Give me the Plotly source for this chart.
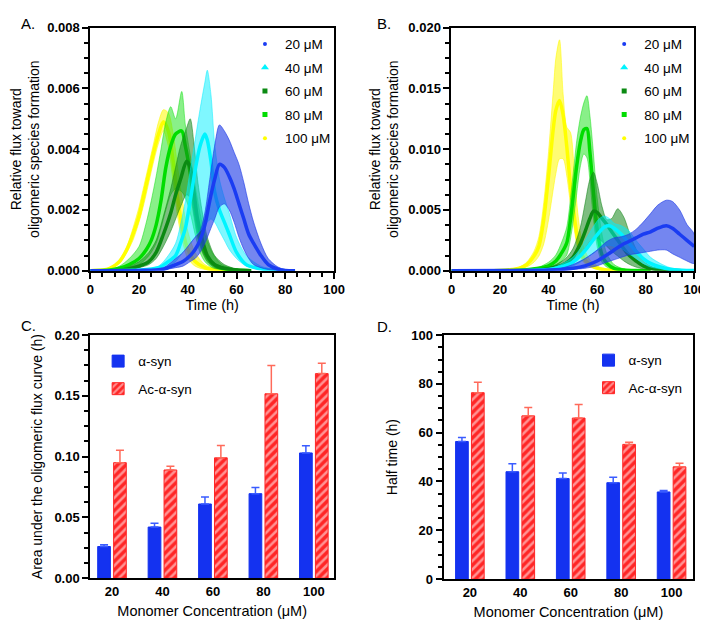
import plotly.graph_objects as go

# ---------------- Panel A (α-syn) : relative flux curves ----------------
A20_t = [0, 20, 30, 35, 38, 41, 43, 45, 47, 49, 51, 53, 55, 57, 59, 61, 63, 65, 67, 70, 73, 77, 80, 84]
A20_mean = [0, 0.00001, 0.00005, 0.0002, 0.0003, 0.0005, 0.0007, 0.001, 0.0015, 0.0023, 0.003, 0.0035, 0.0034, 0.0031, 0.0027, 0.0022, 0.0017, 0.0012, 0.0009, 0.0005, 0.0002, 0.00005, 0.00001, 0]
A20_upper = [0, 0.00002, 0.0001, 0.0004, 0.0006, 0.0009, 0.0011, 0.0013, 0.0019, 0.003, 0.0041, 0.0048, 0.0046, 0.0043, 0.0039, 0.0035, 0.0029, 0.0022, 0.0016, 0.0009, 0.0004, 0.00012, 0.00004, 0]
A20_lower = [0, 0.000005, 0.00003, 0.0001, 0.00015, 0.0003, 0.0004, 0.0006, 0.0009, 0.0013, 0.0017, 0.0021, 0.0022, 0.002, 0.0016, 0.0011, 0.0007, 0.0004, 0.0002, 0.0001, 0.00004, 0.00001, 0, 0]

A40_t = [0, 20, 28, 32, 35, 37, 39, 41, 43, 45, 47, 48, 49.5, 51, 53, 55, 57, 60, 64, 70, 77, 84]
A40_mean = [0, 0.00002, 0.0001, 0.0003, 0.0005, 0.0009, 0.0014, 0.0023, 0.0033, 0.0041, 0.0045, 0.0043, 0.0036, 0.0026, 0.002, 0.0016, 0.0012, 0.0006, 0.0002, 0.00006, 0.00001, 0]
A40_upper = [0, 0.00003, 0.00015, 0.0005, 0.0009, 0.0015, 0.0023, 0.0033, 0.0043, 0.0053, 0.0062, 0.0066, 0.0058, 0.0042, 0.003, 0.0024, 0.0019, 0.0011, 0.0005, 0.00015, 0.00003, 0]
A40_lower = [0, 0.00001, 0.00005, 0.00015, 0.0003, 0.0005, 0.0007, 0.0009, 0.0011, 0.0013, 0.0015, 0.0016, 0.0017, 0.0016, 0.0013, 0.001, 0.0007, 0.0004, 0.00015, 0.00004, 0.00001, 0]

A60_t = [0, 10, 15, 20, 24, 27, 30, 33, 35, 37, 39.5, 41, 42.5, 44, 46, 48, 51, 55, 60, 66]
A60_mean = [0, 0.00001, 0.00005, 0.00015, 0.0003, 0.0006, 0.0012, 0.0019, 0.0025, 0.003, 0.0036, 0.0034, 0.0026, 0.0017, 0.001, 0.0005, 0.0002, 0.00008, 0.00002, 0]
A60_upper = [0, 0.00002, 0.0001, 0.0003, 0.0006, 0.001, 0.0018, 0.0027, 0.0034, 0.0041, 0.0047, 0.005, 0.0042, 0.003, 0.0019, 0.0011, 0.0005, 0.0002, 0.00006, 0]
A60_lower = [0, 0.000005, 0.00003, 0.0001, 0.0002, 0.0004, 0.0008, 0.0013, 0.0017, 0.0021, 0.0025, 0.0024, 0.0018, 0.0011, 0.0006, 0.0003, 0.0001, 0.00004, 0.00001, 0]

A80_t = [0, 8, 12, 16, 20, 23, 25, 27, 29, 31, 33, 35, 37.5, 39, 41, 43, 45, 47, 50, 54, 60, 66]
A80_mean = [0, 0.00002, 0.00008, 0.0002, 0.0004, 0.0007, 0.001, 0.0015, 0.0023, 0.0034, 0.0041, 0.0045, 0.0046, 0.0041, 0.0032, 0.002, 0.0011, 0.0006, 0.00025, 0.00008, 0.00002, 0]
A80_upper = [0, 0.00004, 0.00015, 0.0004, 0.0008, 0.0016, 0.0023, 0.0031, 0.004, 0.0049, 0.0054, 0.005, 0.0059, 0.0048, 0.0038, 0.0028, 0.0019, 0.0012, 0.0006, 0.0002, 0.00005, 0]
A80_lower = [0, 0.00001, 0.00004, 0.0001, 0.0002, 0.0004, 0.0006, 0.0009, 0.0014, 0.002, 0.0025, 0.0027, 0.0026, 0.0024, 0.0019, 0.0012, 0.0006, 0.0003, 0.0001, 0.00003, 0.00001, 0]

A100_t = [0, 5, 8, 12, 15, 17.5, 20, 22, 24, 26, 28, 30, 32, 34, 36, 38, 40, 43, 47, 52, 58]
A100_mean = [0, 0.00002, 0.00008, 0.0003, 0.0007, 0.0012, 0.0018, 0.0025, 0.0032, 0.0039, 0.0045, 0.0049, 0.0046, 0.0036, 0.0023, 0.0013, 0.0007, 0.0003, 0.0001, 0.00002, 0]
A100_upper = [0, 0.00003, 0.0001, 0.00038, 0.0008, 0.0014, 0.0021, 0.0028, 0.0035, 0.0042, 0.0049, 0.0053, 0.0052, 0.0045, 0.0033, 0.0022, 0.0013, 0.0006, 0.0002, 0.00005, 0]
A100_lower = [0, 0.00001, 0.00006, 0.00025, 0.0006, 0.001, 0.0016, 0.0022, 0.0029, 0.0036, 0.0042, 0.0046, 0.0041, 0.0029, 0.0017, 0.0009, 0.0004, 0.00015, 0.00004, 0.00001, 0]

# ---------------- Panel B (Ac-α-syn) : relative flux curves ----------------
B20_t = [0, 30, 40, 45, 50, 55, 60, 64, 67, 70, 73, 76, 79, 82, 85, 88.5, 91, 94, 97, 100]
B20_mean = [0, 0.00001, 0.00005, 0.0001, 0.0002, 0.0004, 0.0008, 0.0013, 0.0017, 0.0021, 0.0024, 0.0027, 0.003, 0.0032, 0.0035, 0.0037, 0.0035, 0.003, 0.0025, 0.002]
B20_upper = [0, 0.00002, 0.0001, 0.0002, 0.0005, 0.001, 0.0017, 0.0024, 0.0027, 0.0028, 0.003, 0.0034, 0.004, 0.0047, 0.0054, 0.0058, 0.0057, 0.005, 0.0038, 0.003]
B20_lower = [0, 0.000005, 0.00002, 0.00004, 0.0001, 0.0002, 0.0004, 0.0007, 0.0009, 0.0011, 0.0013, 0.0014, 0.0015, 0.0016, 0.0017, 0.0017, 0.0014, 0.0011, 0.0008, 0.0006]

B40_t = [0, 30, 40, 45, 50, 53, 56, 59, 61, 63, 65, 67, 70, 73, 76, 79, 82, 86, 90, 95, 100]
B40_mean = [0, 0.00001, 0.0001, 0.0003, 0.0007, 0.0012, 0.0019, 0.0027, 0.0032, 0.0036, 0.0037, 0.0035, 0.003, 0.0023, 0.0016, 0.001, 0.0006, 0.0003, 0.00012, 0.00004, 0.00001]
B40_upper = [0, 0.00002, 0.00015, 0.0005, 0.0011, 0.0018, 0.0028, 0.0038, 0.0043, 0.0045, 0.0043, 0.0039, 0.0037, 0.0033, 0.0025, 0.0018, 0.0011, 0.0006, 0.00025, 0.00008, 0.00002]
B40_lower = [0, 0.000005, 0.00005, 0.00015, 0.0004, 0.0007, 0.0011, 0.0015, 0.0018, 0.002, 0.0021, 0.002, 0.0018, 0.0014, 0.001, 0.0006, 0.0003, 0.00015, 0.00006, 0.00002, 0]

B60_t = [0, 30, 38, 43, 47, 50, 53, 55, 57, 58.5, 60, 62, 64, 66, 68.5, 71, 73.5, 76, 79, 83, 88, 95]
B60_mean = [0, 0.00001, 0.0001, 0.0003, 0.0006, 0.0011, 0.0022, 0.0032, 0.0043, 0.0049, 0.0048, 0.0043, 0.0038, 0.0032, 0.0025, 0.0018, 0.0012, 0.0008, 0.0004, 0.00015, 0.00005, 0]
B60_upper = [0, 0.00002, 0.00015, 0.0005, 0.001, 0.0018, 0.0035, 0.0055, 0.0075, 0.0081, 0.0072, 0.0053, 0.0042, 0.0043, 0.0051, 0.0044, 0.003, 0.0018, 0.0008, 0.0003, 0.0001, 0]
B60_lower = [0, 0.000005, 0.00005, 0.00015, 0.0003, 0.0006, 0.0012, 0.0018, 0.0024, 0.0027, 0.0027, 0.0024, 0.002, 0.0016, 0.0012, 0.0008, 0.0005, 0.0003, 0.00015, 0.00005, 0.00001, 0]

B80_t = [0, 25, 32, 36, 40, 43, 45.5, 47.5, 49.5, 51.5, 53, 54.5, 55.8, 57, 58.2, 60, 62, 64, 67, 71, 76, 82]
B80_mean = [0, 0.00001, 0.0001, 0.0002, 0.0004, 0.0008, 0.0015, 0.0023, 0.005, 0.0085, 0.0105, 0.0116, 0.0117, 0.0098, 0.0071, 0.0034, 0.0013, 0.0006, 0.0002, 0.00006, 0.00001, 0]
B80_upper = [0, 0.00002, 0.00015, 0.0003, 0.0007, 0.0013, 0.0024, 0.0036, 0.0068, 0.0105, 0.0125, 0.0138, 0.0144, 0.0128, 0.0103, 0.006, 0.003, 0.0014, 0.0005, 0.00015, 0.00003, 0]
B80_lower = [0, 0.000005, 0.00005, 0.0001, 0.0002, 0.0004, 0.0008, 0.0013, 0.0032, 0.0062, 0.0085, 0.0096, 0.0093, 0.0075, 0.0048, 0.002, 0.0007, 0.0003, 0.0001, 0.00003, 0.00001, 0]

B100_t = [0, 20, 25, 28, 31, 34, 36, 38, 40, 42, 43, 44.5, 46, 47.5, 49, 50.5, 52, 54, 57, 61, 66, 72]
B100_mean = [0, 0.00002, 0.0001, 0.0002, 0.0005, 0.0012, 0.002, 0.0042, 0.0078, 0.0118, 0.0132, 0.014, 0.0128, 0.0102, 0.007, 0.0046, 0.0026, 0.0012, 0.0005, 0.00015, 0.00004, 0]
B100_upper = [0, 0.00003, 0.00015, 0.0003, 0.0007, 0.0016, 0.0028, 0.0056, 0.0098, 0.015, 0.0175, 0.019, 0.0145, 0.0118, 0.0114, 0.0085, 0.0048, 0.0022, 0.0009, 0.0003, 0.00008, 0]
B100_lower = [0, 0.00001, 0.00005, 0.0001, 0.0003, 0.0007, 0.0012, 0.0022, 0.0042, 0.0068, 0.008, 0.0092, 0.0092, 0.0078, 0.0055, 0.0035, 0.0018, 0.0008, 0.0003, 0.00008, 0.00002, 0]

# ---------------- Panels C and D : bar data ----------------
conc_labels = ["20", "40", "60", "80", "100"]
series_names = ["α-syn", "Ac-α-syn"]
auc_asyn = [0.026, 0.042, 0.061, 0.0695, 0.103]
auc_asyn_err = [0.0014, 0.0032, 0.0057, 0.0051, 0.0059]
auc_ac = [0.095, 0.089, 0.099, 0.1517, 0.1683]
auc_ac_err = [0.0102, 0.003, 0.0102, 0.0233, 0.0086]
half_asyn = [56.4, 44.0, 41.2, 39.5, 35.7]
half_asyn_err = [1.6, 3.3, 2.3, 2.2, 0.6]
half_ac = [76.4, 66.9, 66.0, 55.2, 46.0]
half_ac_err = [4.3, 3.4, 5.6, 0.9, 1.5]

legend_labels = ["20 μM", "40 μM", "60 μM", "80 μM", "100 μM"]

FONT = "Liberation Sans, Arial, Helvetica, sans-serif"
COL = {
    "20": ("#1a3cf2", "rgba(30,60,230,0.62)"),
    "40": ("#00f4ff", "rgba(0,240,255,0.5)"),
    "60": ("#0b8a12", "rgba(20,135,25,0.55)"),
    "80": ("#00dd00", "rgba(20,225,20,0.5)"),
    "100": ("#ffff00", "rgba(255,250,0,0.55)"),
}
SYM = {"20": ("circle", 4), "40": ("triangle-up", 7), "60": ("square-x", 5),
       "80": ("square", 5), "100": ("circle", 4)}

fig = go.Figure()

panelA = {"20": (A20_t, A20_mean, A20_upper, A20_lower),
          "40": (A40_t, A40_mean, A40_upper, A40_lower),
          "60": (A60_t, A60_mean, A60_upper, A60_lower),
          "80": (A80_t, A80_mean, A80_upper, A80_lower),
          "100": (A100_t, A100_mean, A100_upper, A100_lower)}
panelB = {"20": (B20_t, B20_mean, B20_upper, B20_lower),
          "40": (B40_t, B40_mean, B40_upper, B40_lower),
          "60": (B60_t, B60_mean, B60_upper, B60_lower),
          "80": (B80_t, B80_mean, B80_upper, B80_lower),
          "100": (B100_t, B100_mean, B100_upper, B100_lower)}

draw_order = ["100", "80", "60", "40", "20"]
for panel, xa, ya in [(panelA, "x", "y"), (panelB, "x2", "y2")]:
    for key in draw_order:
        t, m, up, lo = panel[key]
        line_c, fill_c = COL[key]
        fig.add_trace(go.Scatter(
            x=list(t) + list(t)[::-1], y=list(up) + list(lo)[::-1],
            fill="toself", fillcolor=fill_c, mode="lines",
            line=dict(color=fill_c, width=1, shape="spline", smoothing=0.8),
            xaxis=xa, yaxis=ya, showlegend=False, hoverinfo="skip"))
        fig.add_trace(go.Scatter(
            x=t, y=m, mode="lines",
            line=dict(color=line_c, width=3.5, shape="spline", smoothing=0.8),
            xaxis=xa, yaxis=ya, showlegend=False))

# legend entries for A and B
for lg, xa, ya in [("legend", "x", "y"), ("legend2", "x2", "y2")]:
    for i, key in enumerate(["20", "40", "60", "80", "100"]):
        sym, sz = SYM[key]
        fig.add_trace(go.Scatter(
            x=[None], y=[None], mode="markers", name=legend_labels[i],
            marker=dict(symbol=sym, size=sz, color=COL[key][0],
                        line=dict(width=0)),
            legend=lg, legendgroup=lg + key, xaxis=xa, yaxis=ya))

# bars C and D
cat_x = [0, 1, 2, 3, 4]
BLUE = "#1432f0"
RED = "#ff2626"
for (vals, errs, vals2, errs2, xa, ya, lg) in [
        (auc_asyn, auc_asyn_err, auc_ac, auc_ac_err, "x3", "y3", "legend3"),
        (half_asyn, half_asyn_err, half_ac, half_ac_err, "x4", "y4", "legend4")]:
    fig.add_trace(go.Bar(
        x=cat_x, y=vals, name=series_names[0], offsetgroup="a",
        marker=dict(color=BLUE, line=dict(color=BLUE, width=1)),
        error_y=dict(type="data", symmetric=False, array=errs,
                     arrayminus=[0] * len(errs), color="#3a5cff",
                     thickness=1.5, width=4),
        xaxis=xa, yaxis=ya, legend=lg, legendgroup=lg + "a"))
    fig.add_trace(go.Bar(
        x=cat_x, y=vals2, name=series_names[1], offsetgroup="b",
        marker=dict(color=RED, line=dict(color=RED, width=1),
                    pattern=dict(shape="/", fgcolor="white", bgcolor=RED,
                                 fillmode="overlay", size=6, solidity=0.42)),
        error_y=dict(type="data", symmetric=False, array=errs2,
                     arrayminus=[0] * len(errs2), color="#ff6a5a",
                     thickness=1.5, width=4),
        xaxis=xa, yaxis=ya, legend=lg, legendgroup=lg + "b"))

W, H = 708, 623
def dx(a, b):
    return [a / W, b / W]
def dy(top, bot):
    return [1 - bot / H, 1 - top / H]

tickf = dict(family=FONT, size=13, color="black", weight="bold")
xtitlef = dict(family=FONT, size=14.5, color="black")
ytitlef = dict(family=FONT, size=14, color="black")
minor_t = dict(ticks="outside", ticklen=4, tickwidth=1.5, tickcolor="black")
axcommon = dict(showline=True, linecolor="black", linewidth=2, mirror=True,
                showgrid=False, zeroline=False, tickfont=tickf,
                ticks="outside", tickwidth=2, ticklen=6, tickcolor="black")

fig.update_layout(
    width=W, height=H, margin=dict(l=0, r=0, t=0, b=0),
    paper_bgcolor="white", plot_bgcolor="white",
    font=dict(family=FONT, color="black"),
    barmode="group", bargap=0.37, bargroupgap=0.2,
    xaxis=dict(domain=dx(80, 329), range=[0, 100], dtick=20, anchor="y",
               minor=dict(dtick=5, **minor_t),
               title=dict(text="Time (h)", font=xtitlef, standoff=1), **axcommon),
    yaxis=dict(domain=dy(13, 262), range=[0, 0.008], dtick=0.002, tickformat=".3f", anchor="x",
               minor=dict(dtick=0.0005, **minor_t),
               title=dict(text="Relative flux toward<br>oligomeric species formation", font=ytitlef, standoff=6),
               **axcommon),
    xaxis2=dict(domain=dx(449, 697), range=[0, 100], dtick=20, anchor="y2",
                minor=dict(dtick=5, **minor_t),
                title=dict(text="Time (h)", font=xtitlef, standoff=1), **axcommon),
    yaxis2=dict(domain=dy(13, 262), range=[0, 0.020], dtick=0.005, tickformat=".3f", anchor="x2",
                minor=dict(dtick=0.00125, **minor_t),
                title=dict(text="Relative flux toward<br>oligomeric species formation", font=ytitlef, standoff=6),
                **axcommon),
    xaxis3=dict(domain=dx(80, 329), range=[-0.43, 4.4], tickvals=cat_x, ticktext=conc_labels,
                anchor="y3", title=dict(text="Monomer Concentration (μM)", font=xtitlef, standoff=8),
                **{**axcommon, "ticks": ""}),
    yaxis3=dict(domain=dy(328, 577), range=[0, 0.20], dtick=0.05, tickformat=".2f", anchor="x3",
                minor=dict(dtick=0.0125, **minor_t),
                title=dict(text="Area under the oligomeric flux curve (h)", font=ytitlef, standoff=8),
                **axcommon),
    xaxis4=dict(domain=dx(441, 696), range=[-0.52, 4.43], tickvals=cat_x, ticktext=conc_labels,
                anchor="y4", title=dict(text="Monomer Concentration (μM)", font=xtitlef, standoff=8),
                **{**axcommon, "ticks": ""}),
    yaxis4=dict(domain=dy(328, 578), range=[0, 100], dtick=20, anchor="x4",
                minor=dict(dtick=5, **minor_t),
                title=dict(text="Half time (h)", font=ytitlef, standoff=10),
                **axcommon),
    legend=dict(x=238 / W, y=1 - 14 / H, xanchor="left", yanchor="top",
                bgcolor="rgba(0,0,0,0)", font=dict(family=FONT, size=13.5),
                tracegroupgap=3, traceorder="grouped"),
    legend2=dict(x=605 / W, y=1 - 14 / H, xanchor="left", yanchor="top",
                 bgcolor="rgba(0,0,0,0)", font=dict(family=FONT, size=13.5),
                 tracegroupgap=3, traceorder="grouped"),
    legend3=dict(x=88 / W, y=1 - 339 / H, xanchor="left", yanchor="top",
                 bgcolor="rgba(0,0,0,0)", font=dict(family=FONT, size=13.5),
                 tracegroupgap=7, traceorder="grouped"),
    legend4=dict(x=589 / W, y=1 - 338 / H, xanchor="left", yanchor="top",
                 bgcolor="rgba(0,0,0,0)", font=dict(family=FONT, size=13.5),
                 tracegroupgap=7, traceorder="grouped"),
)

for txt, px, py in [("A.", 7, 9), ("B.", 371, 9), ("C.", 7, 318), ("D.", 371, 319)]:
    fig.add_annotation(text=txt, x=px / W, y=1 - py / H, xref="paper", yref="paper",
                       xanchor="left", yanchor="middle", showarrow=False,
                       font=dict(family=FONT, size=15, color="black"))

fig.write_html("out.html")
